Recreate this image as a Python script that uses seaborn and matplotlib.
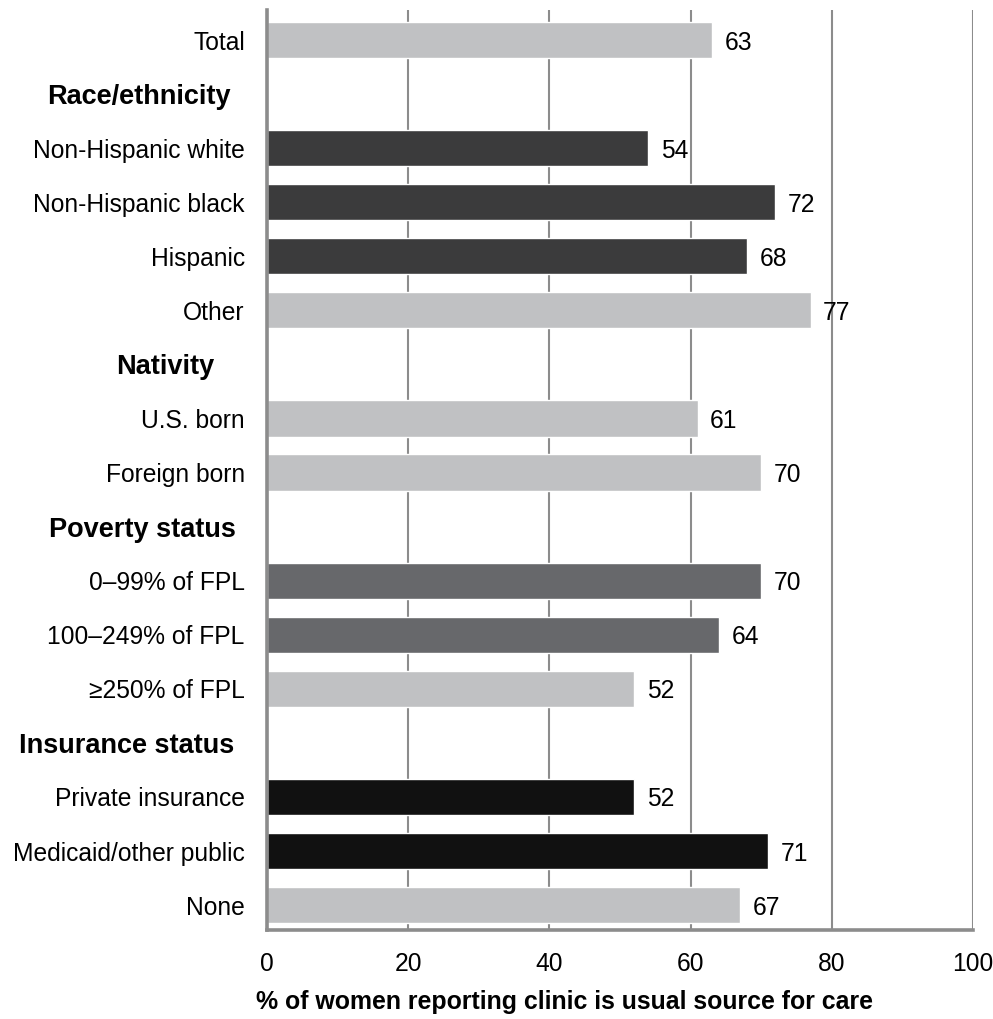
import matplotlib
matplotlib.use("Agg")
import matplotlib.pyplot as plt
import matplotlib.transforms as mtransforms
import pandas as pd
import seaborn as sns

# rows in display order; headers have no value
rows = [
  "Total",
  "Race/ethnicity",
  "Non-Hispanic white",
  "Non-Hispanic black",
  "Hispanic",
  "Other",
  "Nativity",
  "U.S. born",
  "Foreign born",
  "Poverty status",
  "0–99% of FPL",
  "100–249% of FPL",
  "≥250% of FPL",
  "Insurance status",
  "Private insurance",
  "Medicaid/other public",
  "None",
]
headers = ["Race/ethnicity", "Nativity", "Poverty status", "Insurance status"]

categories = [
  "Total",
  "Non-Hispanic white",
  "Non-Hispanic black",
  "Hispanic",
  "Other",
  "U.S. born",
  "Foreign born",
  "0–99% of FPL",
  "100–249% of FPL",
  "≥250% of FPL",
  "Private insurance",
  "Medicaid/other public",
  "None",
]
values = [63, 54, 72, 68, 77, 61, 70, 70, 64, 52, 52, 71, 67]

LIGHT = "#c0c1c3"
DARK = "#3b3b3c"
MID = "#67686b"
BLACK = "#111111"
bar_colors = [LIGHT, DARK, DARK, DARK, LIGHT, LIGHT, LIGHT, MID, MID, LIGHT, BLACK, BLACK, LIGHT]

x_ticks = [0, 20, 40, 60, 80, 100]
x_label = "% of women reporting clinic is usual source for care"

df = pd.DataFrame({"group": categories, "pct": values})
palette = dict(zip(categories, bar_colors))

sns.set_theme(style="white")
plt.rcParams["font.family"] = ["Liberation Sans", "DejaVu Sans"]
plt.rcParams["text.color"] = "black"
plt.rcParams["xtick.color"] = "black"
plt.rcParams["ytick.color"] = "black"
plt.rcParams["xtick.labelcolor"] = "black"
plt.rcParams["ytick.labelcolor"] = "black"

W, H = 993, 1019
fig = plt.figure(figsize=(W / 100, H / 100), dpi=100)
ax = fig.add_axes([267 / W, 1 - 930 / H, (973 - 267) / W, (930 - 10) / H])

sns.barplot(
  data=df,
  x="pct",
  y="group",
  hue="group",
  order=rows,
  hue_order=categories,
  palette=palette,
  orient="h",
  width=0.67,
  legend=False,
  saturation=1,
  ax=ax,
)

ax.set_xlim(0, 100)
ax.set_ylim(len(rows) - 0.54, -0.555)
ax.set_xticks(x_ticks)
ax.set_xticklabels([str(t) for t in x_ticks], fontsize=17.7, color="black")
ax.tick_params(axis="both", length=0)
ax.tick_params(axis="x", pad=16)
ax.tick_params(axis="y", pad=16)

ax.set_axisbelow(True)
ax.xaxis.grid(True, color="#8c8c8c", linewidth=1.5)
ax.yaxis.grid(False)
for s in ("top", "right"):
  ax.spines[s].set_visible(False)
for s in ("left", "bottom"):
  ax.spines[s].set_color("#8c8c8c")
  ax.spines[s].set_linewidth(2.6)

# y labels: regular rows as tick labels, headers as bold text
ax.set_yticks(range(len(rows)))
ax.set_yticklabels([r if r not in headers else "" for r in rows], fontsize=17.7, color="black")
ax.set_ylabel("")

header_right_px = {"Race/ethnicity": 231, "Nativity": 214, "Poverty status": 236, "Insurance status": 234}
trans = mtransforms.blended_transform_factory(fig.transFigure, ax.transData)
for h in headers:
  ax.text(header_right_px[h] / W, rows.index(h), h, transform=trans, ha="right", va="center_baseline",
          fontsize=19.5, fontweight="bold", color="black")

# value labels
for c, v in zip(categories, values):
  ax.annotate(f"{v}", xy=(v, rows.index(c)), xytext=(9, 0), textcoords="offset points",
              ha="left", va="center_baseline", fontsize=17.7, color="black")

ax.set_xlabel("")
fig.text(565 / W, 1 - 1002 / H, x_label, ha="center", va="center", fontsize=17.9, fontweight="bold",
         color="black")

plt.savefig("out.png", dpi=100)
